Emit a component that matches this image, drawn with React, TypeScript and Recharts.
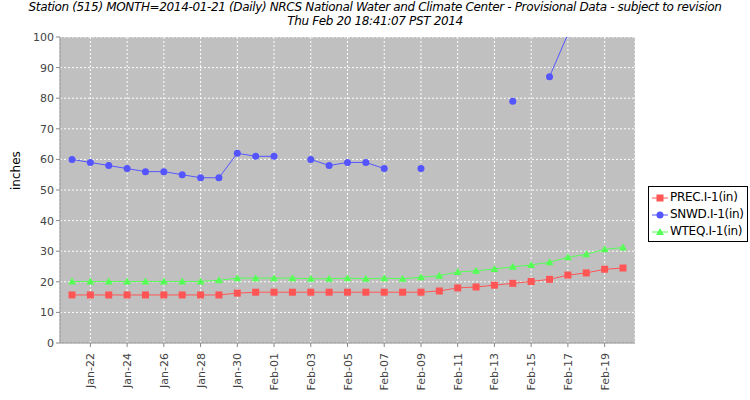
import React from "react";
import { LineChart, Line, XAxis, YAxis, CartesianGrid } from "recharts";

const dates = [
  "Jan-21", "Jan-22", "Jan-23", "Jan-24", "Jan-25", "Jan-26", "Jan-27", "Jan-28", "Jan-29", "Jan-30", "Jan-31",
  "Feb-01", "Feb-02", "Feb-03", "Feb-04", "Feb-05", "Feb-06", "Feb-07", "Feb-08", "Feb-09", "Feb-10",
  "Feb-11", "Feb-12", "Feb-13", "Feb-14", "Feb-15", "Feb-16", "Feb-17", "Feb-18", "Feb-19", "Feb-20",
];
const prec = [15.7, 15.7, 15.7, 15.7, 15.7, 15.7, 15.7, 15.7, 15.7, 16.3, 16.6, 16.6, 16.6, 16.6, 16.6, 16.6, 16.6, 16.6, 16.6, 16.6, 17.0, 18.0, 18.3, 18.9, 19.5, 20.1, 20.8, 22.2, 22.9, 24.1, 24.5];
const snwd = [60, 59, 58, 57, 56, 56, 55, 54, 54, 62, 61, 61, null, 60, 58, 59, 59, 57, null, 57, null, null, null, null, 79, null, 87, 101, null, null, null];
const wteq = [20.1, 20.1, 20.1, 20.1, 20.1, 20.1, 20.1, 20.1, 20.5, 21.2, 21.2, 21.2, 21.2, 21.0, 21.0, 21.2, 21.0, 21.2, 21.0, 21.5, 22.0, 23.2, 23.6, 24.2, 24.9, 25.5, 26.4, 28.0, 29.0, 30.6, 31.2];
const yTicks = [0, 10, 20, 30, 40, 50, 60, 70, 80, 90, 100];
const xTicks = dates.filter((_, i) => i % 2 === 1);

const data = dates.map((d, i) => ({ date: d, prec: prec[i], snwd: snwd[i], wteq: wteq[i] }));

const font = "DejaVu Sans, sans-serif";

const Tri = (props: any) => {
  const { cx, cy } = props;
  if (cx == null || cy == null) return null;
  return <polygon points={`${cx},${cy - 4} ${cx - 4},${cy + 3} ${cx + 4},${cy + 3}`} fill="#55ff55" />;
};
const Sq = (props: any) => {
  const { cx, cy } = props;
  if (cx == null || cy == null) return null;
  return <rect x={cx - 3.5} y={cy - 3.5} width={7} height={7} fill="#ff5555" />;
};

const RotTick = (props: any) => {
  const { x, y, payload } = props;
  return (
    <text x={x + 4} y={y + 4} transform={`rotate(-90 ${x + 4} ${y + 4})`} textAnchor="end" fontSize={11} fill="#444" fontFamily={font}>
      {payload.value}
    </text>
  );
};

export default function App() {
  return (
    <div style={{ position: "absolute", left: 0, top: 0, width: 750, height: 400, background: "#fff", fontFamily: font }}>
      <div style={{ position: "absolute", top: 0, width: 750, textAlign: "center", fontStyle: "italic", fontSize: 12, lineHeight: "14px", color: "#000", whiteSpace: "nowrap", letterSpacing: -0.35 }}>
        Station (515) MONTH=2014-01-21 (Daily) NRCS National Water and Climate Center - Provisional Data - subject to revision
        <br />
        Thu Feb 20 18:41:07 PST 2014
      </div>
      <LineChart width={750} height={400} data={data} margin={{ top: 37, right: 115, bottom: 0, left: 0 }}>
        <CartesianGrid stroke="#ffffff" strokeDasharray="2 2" fill="#c0c0c0" fillOpacity={1} vertical horizontal />
        <XAxis dataKey="date" ticks={xTicks} interval={0} padding={{ left: 12, right: 12 }} tick={<RotTick />} tickSize={4} stroke="#888" height={57} />
        <YAxis domain={[0, 100]} ticks={yTicks} allowDataOverflow width={60} tick={{ fontSize: 11, fill: "#444", fontFamily: font }} tickSize={4} stroke="#888"
          label={{ value: "inches", angle: -90, position: "insideLeft", offset: 16, style: { fontSize: 12, fill: "#000", fontFamily: font } }} />
        <Line dataKey="prec" stroke="#ff5555" strokeWidth={1} dot={<Sq />} isAnimationActive={false} connectNulls={false} />
        <Line dataKey="snwd" stroke="#5555ff" strokeWidth={1} dot={{ r: 3.5, fill: "#5555ff", stroke: "none" }} isAnimationActive={false} connectNulls={false} />
        <Line dataKey="wteq" stroke="#55ff55" strokeWidth={1} dot={<Tri />} isAnimationActive={false} connectNulls={false} />
      </LineChart>
      <div style={{ position: "absolute", left: 648, top: 186, width: 100, height: 56, border: "1px solid #000", fontSize: 12, lineHeight: "17px", padding: "2px 0", boxSizing: "border-box", whiteSpace: "nowrap", background: "#fff" }}>
        {[
          ["PREC.I-1(in)", "#ff5555", "sq"],
          ["SNWD.I-1(in)", "#5555ff", "ci"],
          ["WTEQ.I-1(in)", "#55ff55", "tr"],
        ].map(([n, c, s]) => (
          <div key={n} style={{ display: "flex", alignItems: "center", paddingLeft: 3 }}>
            <svg width={16} height={10} style={{ marginRight: 2 }}>
              <line x1={0} y1={5} x2={16} y2={5} stroke={c} />
              {s === "sq" && <rect x={4.5} y={1.5} width={7} height={7} fill={c} />}
              {s === "ci" && <circle cx={8} cy={5} r={3.5} fill={c} />}
              {s === "tr" && <polygon points="8,1 4,8 12,8" fill={c} />}
            </svg>
            <span style={{ letterSpacing: -0.3 }}>{n}</span>
          </div>
        ))}
      </div>
    </div>
  );
}
